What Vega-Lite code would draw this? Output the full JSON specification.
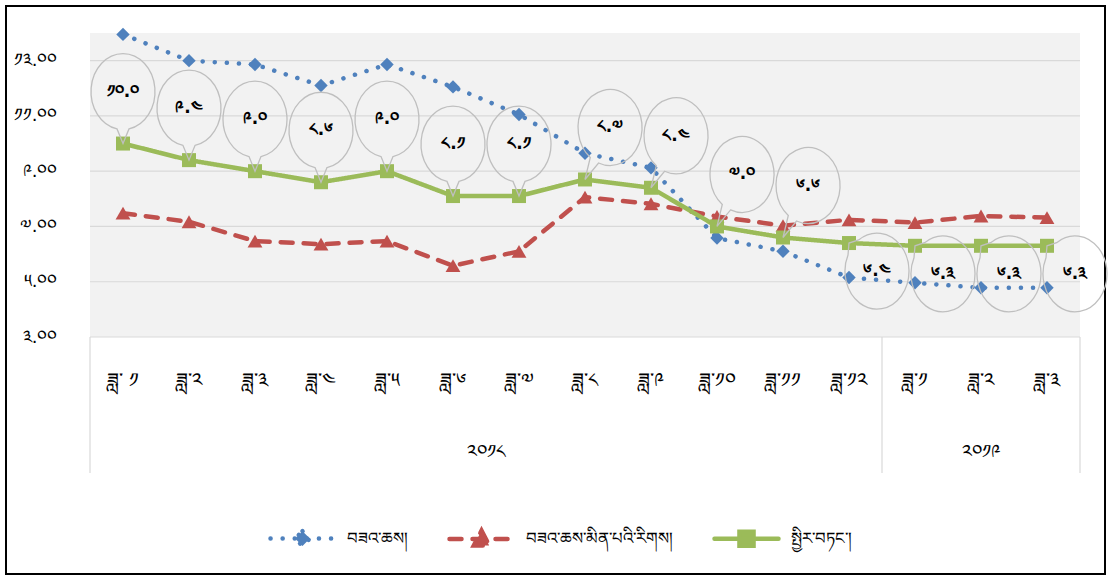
{
  "$schema": "https://vega.github.io/schema/vega-lite/v6.json",
  "width": 1099,
  "height": 568,
  "autosize": "none",
  "padding": {"left": 6, "top": 6, "right": 6, "bottom": 2},
  "background": "white",
  "config": {"view": {"stroke": "#000", "strokeWidth": 2}, "font": "DejaVu Sans"},
  "data": {"values": [
    {"m": 1, "s": "བཟའ་ཆས།", "v": 13.95},
    {"m": 2, "s": "བཟའ་ཆས།", "v": 13.0},
    {"m": 3, "s": "བཟའ་ཆས།", "v": 12.86},
    {"m": 4, "s": "བཟའ་ཆས།", "v": 12.1},
    {"m": 5, "s": "བཟའ་ཆས།", "v": 12.86},
    {"m": 6, "s": "བཟའ་ཆས།", "v": 12.05},
    {"m": 7, "s": "བཟའ་ཆས།", "v": 11.05},
    {"m": 8, "s": "བཟའ་ཆས།", "v": 9.65},
    {"m": 9, "s": "བཟའ་ཆས།", "v": 9.12},
    {"m": 10, "s": "བཟའ་ཆས།", "v": 6.58},
    {"m": 11, "s": "བཟའ་ཆས།", "v": 6.1},
    {"m": 12, "s": "བཟའ་ཆས།", "v": 5.15},
    {"m": 13, "s": "བཟའ་ཆས།", "v": 4.96},
    {"m": 14, "s": "བཟའ་ཆས།", "v": 4.78},
    {"m": 15, "s": "བཟའ་ཆས།", "v": 4.78},
    {"m": 1, "s": "བཟའ་ཆས་མིན་པའི་རིགས།", "v": 7.48},
    {"m": 2, "s": "བཟའ་ཆས་མིན་པའི་རིགས།", "v": 7.17},
    {"m": 3, "s": "བཟའ་ཆས་མིན་པའི་རིགས།", "v": 6.47},
    {"m": 4, "s": "བཟའ་ཆས་མིན་པའི་རིགས།", "v": 6.36},
    {"m": 5, "s": "བཟའ་ཆས་མིན་པའི་རིགས།", "v": 6.47},
    {"m": 6, "s": "བཟའ་ཆས་མིན་པའི་རིགས།", "v": 5.58},
    {"m": 7, "s": "བཟའ་ཆས་མིན་པའི་རིགས།", "v": 6.1},
    {"m": 8, "s": "བཟའ་ཆས་མིན་པའི་རིགས།", "v": 8.06},
    {"m": 9, "s": "བཟའ་ཆས་མིན་པའི་རིགས།", "v": 7.82},
    {"m": 10, "s": "བཟའ་ཆས་མིན་པའི་རིགས།", "v": 7.36},
    {"m": 11, "s": "བཟའ་ཆས་མིན་པའི་རིགས།", "v": 7.03},
    {"m": 12, "s": "བཟའ་ཆས་མིན་པའི་རིགས།", "v": 7.24},
    {"m": 13, "s": "བཟའ་ཆས་མིན་པའི་རིགས།", "v": 7.14},
    {"m": 14, "s": "བཟའ་ཆས་མིན་པའི་རིགས།", "v": 7.38},
    {"m": 15, "s": "བཟའ་ཆས་མིན་པའི་རིགས།", "v": 7.32},
    {"m": 1, "s": "སྤྱིར་བཏང་།", "v": 10.0, "lbl": "༡༠.༠", "mo": "ཟླ་ ༡", "yr": "༢༠༡༨"},
    {"m": 2, "s": "སྤྱིར་བཏང་།", "v": 9.4, "lbl": "༩.༤", "mo": "ཟླ་༢", "yr": "༢༠༡༨"},
    {"m": 3, "s": "སྤྱིར་བཏང་།", "v": 9.0, "lbl": "༩.༠", "mo": "ཟླ་༣", "yr": "༢༠༡༨"},
    {"m": 4, "s": "སྤྱིར་བཏང་།", "v": 8.6, "lbl": "༨.༦", "mo": "ཟླ་༤", "yr": "༢༠༡༨"},
    {"m": 5, "s": "སྤྱིར་བཏང་།", "v": 9.0, "lbl": "༩.༠", "mo": "ཟླ་༥", "yr": "༢༠༡༨"},
    {"m": 6, "s": "སྤྱིར་བཏང་།", "v": 8.1, "lbl": "༨.༡", "mo": "ཟླ་༦", "yr": "༢༠༡༨"},
    {"m": 7, "s": "སྤྱིར་བཏང་།", "v": 8.1, "lbl": "༨.༡", "mo": "ཟླ་༧", "yr": "༢༠༡༨"},
    {"m": 8, "s": "སྤྱིར་བཏང་།", "v": 8.7, "lbl": "༨.༧", "mo": "ཟླ་༨", "yr": "༢༠༡༨"},
    {"m": 9, "s": "སྤྱིར་བཏང་།", "v": 8.4, "lbl": "༨.༤", "mo": "ཟླ་༩", "yr": "༢༠༡༨"},
    {"m": 10, "s": "སྤྱིར་བཏང་།", "v": 7.0, "lbl": "༧.༠", "mo": "ཟླ་༡༠", "yr": "༢༠༡༨"},
    {"m": 11, "s": "སྤྱིར་བཏང་།", "v": 6.6, "lbl": "༦.༦", "mo": "ཟླ་༡༡", "yr": "༢༠༡༨"},
    {"m": 12, "s": "སྤྱིར་བཏང་།", "v": 6.4, "lbl": "༦.༤", "mo": "ཟླ་༡༢", "yr": "༢༠༡༨"},
    {"m": 13, "s": "སྤྱིར་བཏང་།", "v": 6.3, "lbl": "༦.༣", "mo": "ཟླ་༡", "yr": "༢༠༡༩"},
    {"m": 14, "s": "སྤྱིར་བཏང་།", "v": 6.3, "lbl": "༦.༣", "mo": "ཟླ་༢", "yr": "༢༠༡༩"},
    {"m": 15, "s": "སྤྱིར་བཏང་།", "v": 6.3, "lbl": "༦.༣", "mo": "ཟླ་༣", "yr": "༢༠༡༩"}
  ]},
  "layer": [
    {
      "transform": [{"filter": "isValid(datum.lbl) && datum.m == 1"}],
      "mark": {"type": "rect", "fill": "#F2F2F2"},
      "encoding": {
        "x": {"datum": 0.5, "type": "quantitative", "scale": {"domain": [0.5, 15.5], "range": [84, 1074], "nice": false, "zero": false}, "axis": null},
        "x2": {"datum": 15.5},
        "y": {"datum": 3, "type": "quantitative", "scale": {"domain": [3, 14], "range": [331, 27], "nice": false, "zero": false},
          "axis": {"values": [3, 5, 7, 9, 11, 13], "grid": false, "ticks": false, "domain": false, "offset": -51, "labelPadding": 0, "title": null, "labelFontSize": 18, "labelColor": "#000",
            "labelExpr": "replace(replace(replace(replace(replace(replace(format(datum.value,'.2f'),regexp('0','g'),'༠'),regexp('1','g'),'༡'),regexp('3','g'),'༣'),regexp('5','g'),'༥'),regexp('7','g'),'༧'),regexp('9','g'),'༩')"}},
        "y2": {"datum": 14}
      }
    },
    {
      "data": {"values": [{"g": 3}, {"g": 5}, {"g": 7}, {"g": 9}, {"g": 11}, {"g": 13}]},
      "mark": {"type": "rule", "color": "#D9D9D9", "strokeWidth": 1.2},
      "encoding": {
        "x": {"datum": 0.5, "type": "quantitative"},
        "x2": {"datum": 15.5},
        "y": {"field": "g", "type": "quantitative"}
      }
    },
    {
      "transform": [{"filter": "isValid(datum.lbl) && datum.m == 1"}],
      "mark": {"type": "rule", "color": "#D9D9D9", "strokeWidth": 1.2},
      "encoding": {"x": {"datum": 0.5, "type": "quantitative"}, "y": {"datum": 3, "type": "quantitative"}, "y2": {"datum": -1.92}}
    },
    {
      "transform": [{"filter": "isValid(datum.lbl) && datum.m == 1"}],
      "mark": {"type": "rule", "color": "#D9D9D9", "strokeWidth": 1.2},
      "encoding": {"x": {"datum": 12.5, "type": "quantitative"}, "y": {"datum": 3, "type": "quantitative"}, "y2": {"datum": -1.92}}
    },
    {
      "transform": [{"filter": "isValid(datum.lbl) && datum.m == 1"}],
      "mark": {"type": "rule", "color": "#D9D9D9", "strokeWidth": 1.2},
      "encoding": {"x": {"datum": 15.5, "type": "quantitative"}, "y": {"datum": 3, "type": "quantitative"}, "y2": {"datum": -1.92}}
    },
    {
      "mark": {"type": "line", "strokeWidth": 4.5, "strokeCap": "round", "strokeJoin": "round"},
      "encoding": {
        "x": {"field": "m", "type": "quantitative"},
        "y": {"field": "v", "type": "quantitative"},
        "color": {"field": "s", "type": "nominal",
          "scale": {"domain": ["བཟའ་ཆས།", "བཟའ་ཆས་མིན་པའི་རིགས།", "སྤྱིར་བཏང་།"], "range": ["#4F81BD", "#C0504D", "#9BBB59"]},
          "legend": {"orient": "none", "legendX": 262, "legendY": 498, "direction": "horizontal", "title": null, "padding": 0,
            "symbolSize": 4096, "symbolStrokeWidth": 4.5, "symbolOpacity": 1, "labelFontSize": 16.5, "labelColor": "#000", "labelLimit": 400,
            "labelOffset": 10, "columnPadding": 32,
            "encode": {"symbols": {"update": {
              "shape": {"signal": "datum.value == 'བཟའ་ཆས།' ? 'M-1,0H1M0,-0.23L0.23,0L0,0.23L-0.23,0Z' : datum.value == 'སྤྱིར་བཏང་།' ? 'M-1,0H1M-0.22,-0.22H0.22V0.22H-0.22Z' : 'M-1,0H1M0,-0.26L0.24,0.2L-0.24,0.2Z'"},
              "strokeDash": {"signal": "datum.value == 'བཟའ་ཆས།' ? [0.1, 12] : datum.value == 'སྤྱིར་བཏང་།' ? [1, 0] : [12, 11]"},
              "fill": {"signal": "scale('color', datum.value)"},
              "stroke": {"signal": "scale('color', datum.value)"},
              "strokeCap": {"value": "round"},
              "strokeWidth": {"value": 4.5},
              "opacity": {"value": 1}
            }}}}
        },
        "strokeDash": {"field": "s", "type": "nominal",
          "scale": {"domain": ["བཟའ་ཆས།", "བཟའ་ཆས་མིན་པའི་རིགས།", "སྤྱིར་བཏང་།"], "range": [[0.1, 12], [12, 11], [1, 0]]},
          "legend": null}
      }
    },
    {
      "transform": [{"filter": "datum.s == 'བཟའ་ཆས།'"}],
      "mark": {"type": "point", "filled": true, "opacity": 1, "shape": "diamond", "size": 180},
      "encoding": {"x": {"field": "m", "type": "quantitative"}, "y": {"field": "v", "type": "quantitative"}, "color": {"field": "s", "type": "nominal"}}
    },
    {
      "transform": [{"filter": "datum.s == 'བཟའ་ཆས་མིན་པའི་རིགས།'"}],
      "mark": {"type": "point", "filled": true, "opacity": 1, "shape": "triangle-up", "size": 220},
      "encoding": {"x": {"field": "m", "type": "quantitative"}, "y": {"field": "v", "type": "quantitative"}, "color": {"field": "s", "type": "nominal"}}
    },
    {
      "transform": [{"filter": "datum.s == 'སྤྱིར་བཏང་།'"}],
      "mark": {"type": "point", "filled": true, "opacity": 1, "shape": "square", "size": 196},
      "encoding": {"x": {"field": "m", "type": "quantitative"}, "y": {"field": "v", "type": "quantitative"}, "color": {"field": "s", "type": "nominal"}}
    },
    {
      "transform": [{"filter": "isValid(datum.lbl) && datum.m <= 7"}],
      "mark": {"type": "point", "filled": false, "color": "#BFBFBF", "strokeWidth": 1.3, "opacity": 1, "size": 10000,
        "shape": "M0,0L-0.12,-0.293A0.64,0.76 0 1 1 0.12,-0.293Z"},
      "encoding": {"x": {"field": "m", "type": "quantitative"}, "y": {"field": "v", "type": "quantitative"}}
    },
    {
      "transform": [{"filter": "isValid(datum.lbl) && datum.m >= 8 && datum.m <= 11"}],
      "mark": {"type": "point", "filled": false, "color": "#BFBFBF", "strokeWidth": 1.3, "opacity": 1, "size": 10000,
        "shape": "M0,0L0.106,-0.441A0.64,0.76 0 1 1 0.271,-0.330Z"},
      "encoding": {"x": {"field": "m", "type": "quantitative"}, "y": {"field": "v", "type": "quantitative"}}
    },
    {
      "transform": [{"filter": "isValid(datum.lbl) && datum.m >= 12"}],
      "mark": {"type": "point", "filled": false, "color": "#BFBFBF", "strokeWidth": 1.3, "opacity": 1, "size": 10000,
        "shape": "M0,0L-0.020,0.239A0.64,0.76 0 1 0 0.193,-0.062Z"},
      "encoding": {"x": {"field": "m", "type": "quantitative"}, "y": {"field": "v", "type": "quantitative"}}
    },
    {
      "transform": [{"filter": "isValid(datum.lbl) && datum.m <= 7"}],
      "mark": {"type": "text", "fontSize": 17, "fontWeight": "bold", "color": "#000", "dy": -52, "baseline": "middle"},
      "encoding": {"x": {"field": "m", "type": "quantitative"}, "y": {"field": "v", "type": "quantitative"}, "text": {"field": "lbl"}}
    },
    {
      "transform": [{"filter": "isValid(datum.lbl) && datum.m >= 8 && datum.m <= 11"}],
      "mark": {"type": "text", "fontSize": 17, "fontWeight": "bold", "color": "#000", "dx": 25, "dy": -52, "baseline": "middle"},
      "encoding": {"x": {"field": "m", "type": "quantitative"}, "y": {"field": "v", "type": "quantitative"}, "text": {"field": "lbl"}}
    },
    {
      "transform": [{"filter": "isValid(datum.lbl) && datum.m >= 12"}],
      "mark": {"type": "text", "fontSize": 17, "fontWeight": "bold", "color": "#000", "dx": 28, "dy": 28, "baseline": "middle"},
      "encoding": {"x": {"field": "m", "type": "quantitative"}, "y": {"field": "v", "type": "quantitative"}, "text": {"field": "lbl"}}
    },
    {
      "transform": [{"filter": "isValid(datum.lbl)"}],
      "mark": {"type": "text", "fontSize": 20, "color": "#000", "baseline": "middle"},
      "encoding": {"x": {"field": "m", "type": "quantitative"}, "y": {"datum": 1.42, "type": "quantitative"}, "text": {"field": "mo"}}
    },
    {
      "transform": [{"filter": "isValid(datum.lbl)"}],
      "mark": {"type": "text", "fontSize": 19, "color": "#000", "baseline": "middle"},
      "encoding": {"x": {"aggregate": "mean", "field": "m", "type": "quantitative"}, "y": {"datum": -1.16, "type": "quantitative"}, "text": {"field": "yr"}}
    }
  ]
}
